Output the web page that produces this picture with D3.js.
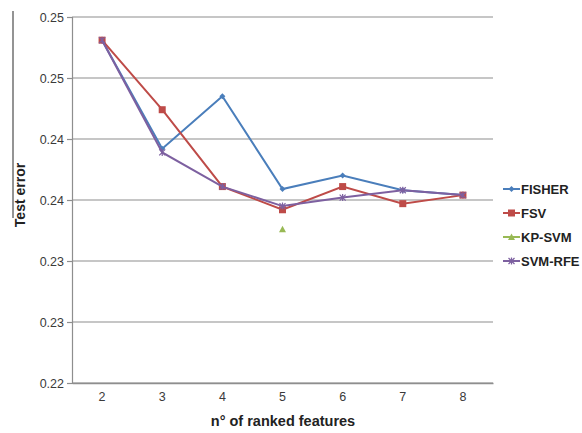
<!DOCTYPE html>
<html><head><meta charset="utf-8">
<script src="https://cdn.jsdelivr.net/npm/d3@7"></script>
<style>body{margin:0;background:#fff}svg{display:block}text{font-family:"Liberation Sans",Arial,sans-serif}</style>
</head><body>
<svg id="c" width="582" height="433"></svg>
<script>
const categories = [2, 3, 4, 5, 6, 7, 8];
const fisher = [0.2531, 0.2442, 0.2485, 0.2409, 0.2420, 0.2408, 0.2404];
const fsv    = [0.2531, 0.2474, 0.2411, 0.2392, 0.2411, 0.2397, 0.2404];
const kpsvm  = [null, null, null, 0.2376, null, null, null];
const svmrfe = [0.2531, 0.2439, 0.2411, 0.2395, 0.2402, 0.2408, 0.2404];
const yTicks = [0.225, 0.23, 0.235, 0.24, 0.245, 0.25, 0.255];
const yTickLabels = ["0.22", "0.23", "0.23", "0.24", "0.24", "0.25", "0.25"];
const seriesNames = ["FISHER", "FSV", "KP-SVM", "SVM-RFE"];
const seriesColors = ["#4a7ebb", "#be4b48", "#98b954", "#7d60a0"];
const seriesValues = [fisher, fsv, kpsvm, svmrfe];

const svg = d3.select("#c");
const L = 72, R = 493, T = 17, B = 383;
const x = d3.scaleBand().domain(categories).range([L, R]);
const y = d3.scaleLinear().domain([0.225, 0.255]).range([B, T]);
const cx = d => x(d) + x.bandwidth() / 2;

// gridlines
svg.append("g").selectAll("line").data(yTicks).join("line")
  .attr("x1", L).attr("x2", R).attr("y1", d => y(d)).attr("y2", d => y(d))
  .attr("stroke", "#8e8e8e").attr("stroke-width", 1.2);

// y axis
const ya = svg.append("g").attr("transform", `translate(${L},0)`)
  .call(d3.axisLeft(y).tickValues(yTicks).tickSize(5).tickPadding(3)
    .tickFormat((d, i) => yTickLabels[i]));
ya.select(".domain").attr("stroke", "#8e8e8e").attr("stroke-width", 1.2);
ya.selectAll(".tick line").attr("stroke", "#8e8e8e").attr("stroke-width", 1.2);
ya.selectAll("text").attr("font-size", 12.5).attr("fill", "#3a3a3a");

// x axis
const xa = svg.append("g").attr("transform", `translate(0,${B})`)
  .call(d3.axisBottom(x).tickSize(0).tickPadding(9));
xa.select(".domain").attr("stroke", "#8e8e8e").attr("stroke-width", 1.5);
xa.selectAll("text").attr("font-size", 12.5).attr("fill", "#3a3a3a");

// axis titles
svg.append("text").attr("transform", "translate(25,195) rotate(-90)")
  .attr("text-anchor", "middle").attr("font-size", 14).attr("font-weight", "bold")
  .attr("fill", "#222").text("Test error");
svg.append("line").attr("x1", 13).attr("x2", 13).attr("y1", 11).attr("y2", 218)
  .attr("stroke", "#707070").attr("stroke-width", 1.5);
svg.append("text").attr("x", 283).attr("y", 426)
  .attr("text-anchor", "middle").attr("font-size", 14.5).attr("font-weight", "bold")
  .attr("fill", "#222").text("n° of ranked features");

function marker(g, type, px, py, color) {
  if (type === 0) {
    g.append("path").attr("d", `M${px},${py-3}L${px+3},${py}L${px},${py+3}L${px-3},${py}Z`).attr("fill", color);
  } else if (type === 1) {
    g.append("rect").attr("x", px-3.5).attr("y", py-3.5).attr("width", 7).attr("height", 7).attr("fill", color);
  } else if (type === 2) {
    g.append("path").attr("d", `M${px},${py-3.5}L${px+3.5},${py+3}L${px-3.5},${py+3}Z`).attr("fill", color);
  } else {
    g.append("path").attr("d", `M${px-3},${py-3}L${px+3},${py+3}M${px-3},${py+3}L${px+3},${py-3}M${px},${py-3.5}L${px},${py+3.5}`)
      .attr("stroke", color).attr("stroke-width", 1.2).attr("fill", "none");
  }
}

const line = d3.line().defined(d => d[1] != null).x(d => cx(d[0])).y(d => y(d[1]));
seriesValues.forEach((vals, i) => {
  const data = categories.map((c, j) => [c, vals[j]]);
  const g = svg.append("g");
  g.append("path").datum(data).attr("d", line).attr("fill", "none")
    .attr("stroke", seriesColors[i]).attr("stroke-width", 2);
  data.filter(d => d[1] != null).forEach(d => marker(g, i, cx(d[0]), y(d[1]), seriesColors[i]));
});

// legend
const lg = svg.append("g");
seriesNames.forEach((n, i) => {
  const ly = 189 + i * 24;
  lg.append("line").attr("x1", 503).attr("x2", 520).attr("y1", ly).attr("y2", ly)
    .attr("stroke", seriesColors[i]).attr("stroke-width", 2);
  marker(lg, i, 511.5, ly, seriesColors[i]);
  lg.append("text").attr("x", 521).attr("y", ly + 5).attr("font-size", 13)
    .attr("font-weight", "bold").attr("fill", "#222").text(n);
});
</script>
</body></html>
